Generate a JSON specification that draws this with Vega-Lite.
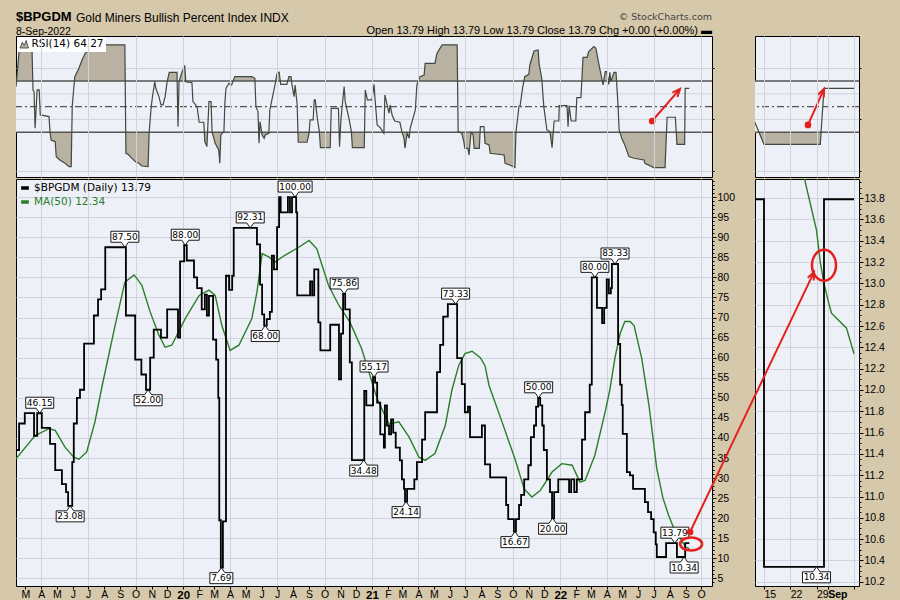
{
  "background": "#d6c8ab",
  "padding": {"left": 14, "top": 10, "right": 16, "bottom": 0},
  "title": {"text": "$BPGDM", "subtitle": "8-Sep-2022", "anchor": "start", "frame": "group", "offset": -26, "font": "Liberation Sans", "fontSize": 13, "fontWeight": "bold", "color": "#000000", "subtitleFont": "Liberation Sans", "subtitleFontSize": 10.5, "subtitleColor": "#000000", "subtitlePadding": 3},
  "config": {
    "view": {"fill": "#eef0f7", "stroke": "#000000", "strokeWidth": 1},
    "axis": {"domain": false, "gridColor": "#d0d3dc", "tickColor": "#000000", "labelColor": "#000000", "labelFont": "Liberation Sans", "labelFontSize": 10.5, "labelOverlap": false, "labelBound": false, "labelFlush": false}
  },
  "datasets": {
    "price": [
      {"date": "2019-02-11", "v": 37.0}, {"date": "2019-02-17", "v": 43.6}, {"date": "2019-02-28", "v": 46.2}, {"date": "2019-03-18", "v": 40.5}, {"date": "2019-03-24", "v": 46.15}, {"date": "2019-04-02", "v": 42.5}, {"date": "2019-04-18", "v": 38.5}, {"date": "2019-04-28", "v": 32.0}, {"date": "2019-05-11", "v": 28.5}, {"date": "2019-05-19", "v": 26.5}, {"date": "2019-05-23", "v": 23.08}, {"date": "2019-05-31", "v": 34.0},
      {"date": "2019-06-03", "v": 43.6}, {"date": "2019-06-09", "v": 50.0}, {"date": "2019-06-15", "v": 52.0}, {"date": "2019-06-23", "v": 63.5}, {"date": "2019-07-12", "v": 70.5}, {"date": "2019-07-20", "v": 74.5}, {"date": "2019-07-26", "v": 77.0}, {"date": "2019-08-03", "v": 87.5}, {"date": "2019-09-12", "v": 70.5}, {"date": "2019-09-30", "v": 59.5}, {"date": "2019-10-12", "v": 55.8}, {"date": "2019-10-21", "v": 52.0},
      {"date": "2019-10-29", "v": 60.0}, {"date": "2019-11-05", "v": 67.0}, {"date": "2019-11-19", "v": 65.0}, {"date": "2019-12-01", "v": 72.0}, {"date": "2019-12-22", "v": 65.0}, {"date": "2019-12-26", "v": 84.0}, {"date": "2020-01-03", "v": 88.0}, {"date": "2020-01-08", "v": 84.2}, {"date": "2020-01-22", "v": 80.0}, {"date": "2020-01-28", "v": 77.3}, {"date": "2020-02-06", "v": 72.0}, {"date": "2020-02-12", "v": 75.7},
      {"date": "2020-02-16", "v": 70.5}, {"date": "2020-02-20", "v": 75.4}, {"date": "2020-02-28", "v": 64.5}, {"date": "2020-03-05", "v": 59.5}, {"date": "2020-03-09", "v": 50.0}, {"date": "2020-03-11", "v": 19.5}, {"date": "2020-03-14", "v": 7.69}, {"date": "2020-03-18", "v": 19.2}, {"date": "2020-03-24", "v": 80.4}, {"date": "2020-03-30", "v": 76.9}, {"date": "2020-04-05", "v": 80.4}, {"date": "2020-04-08", "v": 92.31},
      {"date": "2020-05-23", "v": 88.2}, {"date": "2020-05-29", "v": 78.2}, {"date": "2020-06-02", "v": 70.8}, {"date": "2020-06-06", "v": 68.0}, {"date": "2020-06-11", "v": 69.6}, {"date": "2020-06-17", "v": 71.4}, {"date": "2020-06-21", "v": 85.4}, {"date": "2020-06-25", "v": 82.0}, {"date": "2020-07-01", "v": 92.5}, {"date": "2020-07-05", "v": 100}, {"date": "2020-07-08", "v": 96.2}, {"date": "2020-07-22", "v": 100},
      {"date": "2020-07-26", "v": 96.2}, {"date": "2020-07-30", "v": 100}, {"date": "2020-08-07", "v": 96.2}, {"date": "2020-08-09", "v": 75.5}, {"date": "2020-09-03", "v": 79.0}, {"date": "2020-09-07", "v": 75.5}, {"date": "2020-09-11", "v": 82.0}, {"date": "2020-09-19", "v": 68.8}, {"date": "2020-09-23", "v": 61.8}, {"date": "2020-10-12", "v": 68.2}, {"date": "2020-10-29", "v": 54.6}, {"date": "2020-11-02", "v": 66.0},
      {"date": "2020-11-06", "v": 75.86}, {"date": "2020-11-10", "v": 72.0}, {"date": "2020-11-19", "v": 58.8}, {"date": "2020-11-23", "v": 34.48}, {"date": "2020-12-17", "v": 51.7}, {"date": "2020-12-21", "v": 48.1}, {"date": "2021-01-03", "v": 55.17}, {"date": "2021-01-07", "v": 53.8}, {"date": "2021-01-11", "v": 48.8}, {"date": "2021-01-17", "v": 40.9}, {"date": "2021-01-24", "v": 37.6}, {"date": "2021-01-26", "v": 48.1},
      {"date": "2021-01-30", "v": 43.1}, {"date": "2021-02-03", "v": 40.9}, {"date": "2021-02-07", "v": 44.6}, {"date": "2021-02-11", "v": 41.3}, {"date": "2021-02-16", "v": 37.6}, {"date": "2021-02-24", "v": 34.4}, {"date": "2021-02-28", "v": 29.7}, {"date": "2021-03-04", "v": 27.3}, {"date": "2021-03-06", "v": 24.14}, {"date": "2021-03-10", "v": 27.3}, {"date": "2021-03-24", "v": 29.7}, {"date": "2021-03-29", "v": 34.0},
      {"date": "2021-04-08", "v": 39.6}, {"date": "2021-04-14", "v": 46.4}, {"date": "2021-05-07", "v": 56.4}, {"date": "2021-05-13", "v": 63.2}, {"date": "2021-05-19", "v": 70.2}, {"date": "2021-05-28", "v": 73.33}, {"date": "2021-06-15", "v": 59.9}, {"date": "2021-06-24", "v": 53.4}, {"date": "2021-06-30", "v": 46.4}, {"date": "2021-07-06", "v": 47.8}, {"date": "2021-07-10", "v": 40.2}, {"date": "2021-08-02", "v": 43.1},
      {"date": "2021-08-08", "v": 33.4}, {"date": "2021-08-18", "v": 30.2}, {"date": "2021-09-18", "v": 23.3}, {"date": "2021-09-22", "v": 19.8}, {"date": "2021-10-03", "v": 16.67}, {"date": "2021-10-07", "v": 19.8}, {"date": "2021-10-13", "v": 23.3}, {"date": "2021-10-17", "v": 25.8}, {"date": "2021-10-23", "v": 29.7}, {"date": "2021-10-31", "v": 33.2}, {"date": "2021-11-05", "v": 40.2}, {"date": "2021-11-11", "v": 43.1},
      {"date": "2021-11-15", "v": 47.8}, {"date": "2021-11-19", "v": 50.0}, {"date": "2021-11-23", "v": 48.1}, {"date": "2021-11-27", "v": 43.1}, {"date": "2021-11-30", "v": 37.0}, {"date": "2021-12-06", "v": 29.7}, {"date": "2021-12-12", "v": 26.5}, {"date": "2021-12-16", "v": 20.0}, {"date": "2021-12-20", "v": 26.5}, {"date": "2021-12-28", "v": 29.7}, {"date": "2022-01-18", "v": 26.5}, {"date": "2022-01-22", "v": 29.7},
      {"date": "2022-01-28", "v": 26.5}, {"date": "2022-02-02", "v": 29.7}, {"date": "2022-02-12", "v": 39.6}, {"date": "2022-02-18", "v": 46.4}, {"date": "2022-02-27", "v": 53.3}, {"date": "2022-03-03", "v": 80.0}, {"date": "2022-03-13", "v": 72.4}, {"date": "2022-03-23", "v": 68.6}, {"date": "2022-03-27", "v": 72.4}, {"date": "2022-04-01", "v": 79.5}, {"date": "2022-04-05", "v": 76.0}, {"date": "2022-04-09", "v": 77.3},
      {"date": "2022-04-11", "v": 83.33}, {"date": "2022-04-23", "v": 63.4}, {"date": "2022-04-27", "v": 53.3}, {"date": "2022-04-30", "v": 48.2}, {"date": "2022-05-02", "v": 41.0}, {"date": "2022-05-10", "v": 31.5}, {"date": "2022-05-16", "v": 30.7}, {"date": "2022-05-22", "v": 27.3}, {"date": "2022-06-14", "v": 24.0}, {"date": "2022-06-20", "v": 21.5}, {"date": "2022-06-26", "v": 19.8}, {"date": "2022-07-01", "v": 16.5},
      {"date": "2022-07-05", "v": 13.5}, {"date": "2022-07-07", "v": 10.34}, {"date": "2022-07-25", "v": 13.79}, {"date": "2022-08-15", "v": 10.34}, {"date": "2022-08-31", "v": 13.79}, {"date": "2022-09-08", "v": 13.79}
    ],
    "ma": [
      {"date": "2019-02-11", "ma": 34.8}, {"date": "2019-03-20", "ma": 40.6}, {"date": "2019-04-16", "ma": 42.3}, {"date": "2019-04-28", "ma": 41.9}, {"date": "2019-05-17", "ma": 37.7}, {"date": "2019-06-03", "ma": 35.2}, {"date": "2019-06-13", "ma": 34.7}, {"date": "2019-06-28", "ma": 36.5}, {"date": "2019-07-14", "ma": 44.0}, {"date": "2019-07-28", "ma": 53.0}, {"date": "2019-08-22", "ma": 68.0}, {"date": "2019-09-10", "ma": 78.8},
      {"date": "2019-09-28", "ma": 80.6}, {"date": "2019-10-13", "ma": 78.0}, {"date": "2019-10-29", "ma": 71.4}, {"date": "2019-11-15", "ma": 65.6}, {"date": "2019-11-27", "ma": 62.6}, {"date": "2019-12-10", "ma": 63.1}, {"date": "2020-01-05", "ma": 69.7}, {"date": "2020-02-01", "ma": 75.5}, {"date": "2020-02-20", "ma": 76.8}, {"date": "2020-03-03", "ma": 75.5}, {"date": "2020-03-16", "ma": 68.0}, {"date": "2020-04-01", "ma": 61.8},
      {"date": "2020-04-18", "ma": 63.1}, {"date": "2020-05-13", "ma": 69.7}, {"date": "2020-05-23", "ma": 76.3}, {"date": "2020-06-02", "ma": 85.9}, {"date": "2020-06-15", "ma": 85.1}, {"date": "2020-06-27", "ma": 83.8}, {"date": "2020-07-16", "ma": 85.5}, {"date": "2020-08-12", "ma": 87.5}, {"date": "2020-09-01", "ma": 89.2}, {"date": "2020-09-16", "ma": 87.1}, {"date": "2020-10-09", "ma": 77.9}, {"date": "2020-10-29", "ma": 73.0},
      {"date": "2020-11-19", "ma": 68.9}, {"date": "2020-12-12", "ma": 62.2}, {"date": "2020-12-26", "ma": 56.4}, {"date": "2021-01-07", "ma": 51.4}, {"date": "2021-01-14", "ma": 48.9}, {"date": "2021-02-03", "ma": 43.5}, {"date": "2021-02-22", "ma": 44.0}, {"date": "2021-03-14", "ma": 40.2}, {"date": "2021-04-02", "ma": 35.2}, {"date": "2021-04-14", "ma": 34.4}, {"date": "2021-05-03", "ma": 36.1}, {"date": "2021-05-23", "ma": 43.1},
      {"date": "2021-06-05", "ma": 52.0}, {"date": "2021-06-18", "ma": 58.0}, {"date": "2021-06-30", "ma": 61.0}, {"date": "2021-07-14", "ma": 61.6}, {"date": "2021-07-30", "ma": 60.0}, {"date": "2021-08-08", "ma": 58.0}, {"date": "2021-08-16", "ma": 53.0}, {"date": "2021-09-10", "ma": 44.0}, {"date": "2021-10-05", "ma": 34.8}, {"date": "2021-10-23", "ma": 27.3}, {"date": "2021-11-07", "ma": 25.3}, {"date": "2021-11-23", "ma": 26.9},
      {"date": "2021-12-16", "ma": 31.5}, {"date": "2022-01-04", "ma": 33.6}, {"date": "2022-01-24", "ma": 33.2}, {"date": "2022-02-08", "ma": 29.0}, {"date": "2022-02-18", "ma": 29.4}, {"date": "2022-03-09", "ma": 35.7}, {"date": "2022-03-29", "ma": 46.5}, {"date": "2022-04-07", "ma": 52.0}, {"date": "2022-04-17", "ma": 60.0}, {"date": "2022-04-27", "ma": 66.0}, {"date": "2022-05-06", "ma": 69.0}, {"date": "2022-05-16", "ma": 69.0},
      {"date": "2022-05-24", "ma": 68.0}, {"date": "2022-06-08", "ma": 59.7}, {"date": "2022-06-22", "ma": 48.0}, {"date": "2022-07-07", "ma": 32.3}, {"date": "2022-07-19", "ma": 25.0}, {"date": "2022-07-30", "ma": 20.7}, {"date": "2022-08-09", "ma": 17.5}, {"date": "2022-08-16", "ma": 16.0}, {"date": "2022-08-22", "ma": 15.0}, {"date": "2022-08-24", "ma": 14.6}, {"date": "2022-08-25", "ma": 14.3}, {"date": "2022-08-26", "ma": 13.95},
      {"date": "2022-08-29", "ma": 13.5}, {"date": "2022-08-30", "ma": 13.2}, {"date": "2022-08-31", "ma": 13.0}, {"date": "2022-09-01", "ma": 12.85}, {"date": "2022-09-02", "ma": 12.72}, {"date": "2022-09-06", "ma": 12.58}, {"date": "2022-09-07", "ma": 12.46}, {"date": "2022-09-08", "ma": 12.34}
    ],
    "rsi": [
      {"date": "2019-02-11", "rsi": 65.6}, {"date": "2019-02-17", "rsi": 92.9}, {"date": "2019-03-06", "rsi": 94.0}, {"date": "2019-03-14", "rsi": 95.5}, {"date": "2019-03-16", "rsi": 63.0}, {"date": "2019-03-18", "rsi": 61.7}, {"date": "2019-03-20", "rsi": 33.1}, {"date": "2019-03-24", "rsi": 63.0}, {"date": "2019-03-28", "rsi": 63.0}, {"date": "2019-03-30", "rsi": 43.5}, {"date": "2019-04-16", "rsi": 42.2}, {"date": "2019-04-18", "rsi": 30.0},
      {"date": "2019-04-20", "rsi": 24.0}, {"date": "2019-04-28", "rsi": 22.7}, {"date": "2019-04-30", "rsi": 11.0}, {"date": "2019-05-07", "rsi": 8.4}, {"date": "2019-05-17", "rsi": 5.8}, {"date": "2019-05-25", "rsi": 3.2}, {"date": "2019-05-29", "rsi": 3.2}, {"date": "2019-05-31", "rsi": 50.5}, {"date": "2019-06-03", "rsi": 64.3}, {"date": "2019-06-05", "rsi": 73.4}, {"date": "2019-06-13", "rsi": 79.9}, {"date": "2019-06-19", "rsi": 86.4},
      {"date": "2019-06-25", "rsi": 91.6}, {"date": "2019-07-04", "rsi": 94.2}, {"date": "2019-07-14", "rsi": 96.8}, {"date": "2019-07-28", "rsi": 98.1}, {"date": "2019-09-10", "rsi": 98.1}, {"date": "2019-09-12", "rsi": 13.6}, {"date": "2019-09-16", "rsi": 12.8}, {"date": "2019-09-30", "rsi": 7.1}, {"date": "2019-10-07", "rsi": 5.8}, {"date": "2019-10-13", "rsi": 3.7}, {"date": "2019-10-25", "rsi": 3.2}, {"date": "2019-10-27", "rsi": 29.2},
      {"date": "2019-10-31", "rsi": 50.0}, {"date": "2019-11-03", "rsi": 59.1}, {"date": "2019-11-07", "rsi": 69.5}, {"date": "2019-11-09", "rsi": 64.3}, {"date": "2019-11-15", "rsi": 57.8}, {"date": "2019-11-19", "rsi": 51.3}, {"date": "2019-11-23", "rsi": 51.3}, {"date": "2019-11-27", "rsi": 57.8}, {"date": "2019-12-01", "rsi": 69.5}, {"date": "2019-12-05", "rsi": 76.8}, {"date": "2019-12-20", "rsi": 76.8}, {"date": "2019-12-22", "rsi": 34.4},
      {"date": "2019-12-24", "rsi": 69.5}, {"date": "2019-12-30", "rsi": 77.3}, {"date": "2020-01-04", "rsi": 82.0}, {"date": "2020-01-06", "rsi": 69.5}, {"date": "2020-01-18", "rsi": 68.7}, {"date": "2020-01-20", "rsi": 53.9}, {"date": "2020-01-28", "rsi": 50.0}, {"date": "2020-02-01", "rsi": 37.8}, {"date": "2020-02-10", "rsi": 37.8}, {"date": "2020-02-12", "rsi": 22.7}, {"date": "2020-02-16", "rsi": 18.8}, {"date": "2020-02-20", "rsi": 53.9},
      {"date": "2020-02-24", "rsi": 53.9}, {"date": "2020-02-26", "rsi": 30.5}, {"date": "2020-03-03", "rsi": 21.4}, {"date": "2020-03-10", "rsi": 16.2}, {"date": "2020-03-12", "rsi": 5.8}, {"date": "2020-03-14", "rsi": 27.9}, {"date": "2020-03-20", "rsi": 30.5}, {"date": "2020-03-22", "rsi": 53.9}, {"date": "2020-03-24", "rsi": 64.3}, {"date": "2020-03-30", "rsi": 68.2}, {"date": "2020-04-04", "rsi": 66.9}, {"date": "2020-04-10", "rsi": 73.4},
      {"date": "2020-05-13", "rsi": 73.4}, {"date": "2020-05-19", "rsi": 72.1}, {"date": "2020-05-21", "rsi": 50.0}, {"date": "2020-05-25", "rsi": 46.1}, {"date": "2020-05-27", "rsi": 21.4}, {"date": "2020-05-29", "rsi": 38.3}, {"date": "2020-06-02", "rsi": 27.9}, {"date": "2020-06-06", "rsi": 25.3}, {"date": "2020-06-08", "rsi": 27.9}, {"date": "2020-06-15", "rsi": 29.2}, {"date": "2020-06-17", "rsi": 47.4}, {"date": "2020-06-23", "rsi": 59.1},
      {"date": "2020-06-27", "rsi": 66.9}, {"date": "2020-07-01", "rsi": 76.0}, {"date": "2020-07-05", "rsi": 76.8}, {"date": "2020-07-08", "rsi": 67.4}, {"date": "2020-07-20", "rsi": 67.4}, {"date": "2020-07-24", "rsi": 73.4}, {"date": "2020-07-28", "rsi": 73.4}, {"date": "2020-07-30", "rsi": 66.9}, {"date": "2020-08-03", "rsi": 57.8}, {"date": "2020-08-05", "rsi": 66.9}, {"date": "2020-08-09", "rsi": 51.3}, {"date": "2020-08-11", "rsi": 22.2},
      {"date": "2020-08-28", "rsi": 22.2}, {"date": "2020-09-01", "rsi": 29.2}, {"date": "2020-09-03", "rsi": 39.6}, {"date": "2020-09-09", "rsi": 39.6}, {"date": "2020-09-11", "rsi": 55.2}, {"date": "2020-09-13", "rsi": 55.2}, {"date": "2020-09-17", "rsi": 40.9}, {"date": "2020-09-21", "rsi": 30.5}, {"date": "2020-09-23", "rsi": 18.0}, {"date": "2020-10-12", "rsi": 18.0}, {"date": "2020-10-14", "rsi": 48.7}, {"date": "2020-10-28", "rsi": 48.7},
      {"date": "2020-10-30", "rsi": 18.8}, {"date": "2020-11-02", "rsi": 40.9}, {"date": "2020-11-08", "rsi": 65.6}, {"date": "2020-11-10", "rsi": 53.9}, {"date": "2020-11-18", "rsi": 39.6}, {"date": "2020-11-22", "rsi": 30.5}, {"date": "2020-11-24", "rsi": 18.0}, {"date": "2020-12-17", "rsi": 18.0}, {"date": "2020-12-19", "rsi": 63.0}, {"date": "2020-12-23", "rsi": 55.2}, {"date": "2021-01-01", "rsi": 55.2}, {"date": "2021-01-05", "rsi": 67.4},
      {"date": "2021-01-07", "rsi": 55.2}, {"date": "2021-01-11", "rsi": 35.7}, {"date": "2021-01-17", "rsi": 33.6}, {"date": "2021-01-24", "rsi": 29.2}, {"date": "2021-01-26", "rsi": 59.1}, {"date": "2021-02-03", "rsi": 44.8}, {"date": "2021-02-05", "rsi": 51.3}, {"date": "2021-02-09", "rsi": 43.5}, {"date": "2021-02-14", "rsi": 38.8}, {"date": "2021-02-24", "rsi": 37.8}, {"date": "2021-02-28", "rsi": 30.5}, {"date": "2021-03-04", "rsi": 25.3},
      {"date": "2021-03-06", "rsi": 17.5}, {"date": "2021-03-10", "rsi": 29.2}, {"date": "2021-03-14", "rsi": 25.3}, {"date": "2021-03-16", "rsi": 33.1}, {"date": "2021-03-26", "rsi": 47.4}, {"date": "2021-03-29", "rsi": 66.9}, {"date": "2021-04-04", "rsi": 73.4}, {"date": "2021-04-12", "rsi": 74.7}, {"date": "2021-04-14", "rsi": 83.8}, {"date": "2021-05-03", "rsi": 83.8}, {"date": "2021-05-07", "rsi": 91.6}, {"date": "2021-05-17", "rsi": 98.1},
      {"date": "2021-06-15", "rsi": 98.1}, {"date": "2021-06-17", "rsi": 30.5}, {"date": "2021-06-24", "rsi": 29.2}, {"date": "2021-06-28", "rsi": 22.7}, {"date": "2021-06-30", "rsi": 17.5}, {"date": "2021-07-06", "rsi": 17.5}, {"date": "2021-07-08", "rsi": 12.3}, {"date": "2021-07-12", "rsi": 30.0}, {"date": "2021-07-16", "rsi": 28.0}, {"date": "2021-07-18", "rsi": 17.5}, {"date": "2021-07-28", "rsi": 17.5}, {"date": "2021-07-30", "rsi": 34.4},
      {"date": "2021-08-06", "rsi": 34.4}, {"date": "2021-08-08", "rsi": 21.4}, {"date": "2021-08-16", "rsi": 20.1}, {"date": "2021-08-18", "rsi": 13.6}, {"date": "2021-09-14", "rsi": 12.3}, {"date": "2021-09-16", "rsi": 5.8}, {"date": "2021-09-25", "rsi": 4.5}, {"date": "2021-10-05", "rsi": 2.4}, {"date": "2021-10-07", "rsi": 30.0}, {"date": "2021-10-13", "rsi": 50.5}, {"date": "2021-10-15", "rsi": 50.5}, {"date": "2021-10-20", "rsi": 64.8},
      {"date": "2021-10-24", "rsi": 73.4}, {"date": "2021-11-01", "rsi": 75.2}, {"date": "2021-11-03", "rsi": 82.5}, {"date": "2021-11-11", "rsi": 93.4}, {"date": "2021-11-19", "rsi": 94.2}, {"date": "2021-11-21", "rsi": 83.0}, {"date": "2021-11-26", "rsi": 72.1}, {"date": "2021-11-30", "rsi": 50.0}, {"date": "2021-12-06", "rsi": 31.8}, {"date": "2021-12-12", "rsi": 30.5}, {"date": "2021-12-16", "rsi": 18.0}, {"date": "2021-12-20", "rsi": 38.8},
      {"date": "2021-12-29", "rsi": 38.8}, {"date": "2021-12-30", "rsi": 50.8}, {"date": "2022-01-14", "rsi": 50.8}, {"date": "2022-01-16", "rsi": 34.4}, {"date": "2022-01-18", "rsi": 50.8}, {"date": "2022-01-22", "rsi": 38.8}, {"date": "2022-01-31", "rsi": 38.8}, {"date": "2022-02-02", "rsi": 57.0}, {"date": "2022-02-10", "rsi": 57.0}, {"date": "2022-02-14", "rsi": 88.5}, {"date": "2022-02-22", "rsi": 88.5}, {"date": "2022-02-25", "rsi": 92.9},
      {"date": "2022-03-07", "rsi": 96.8}, {"date": "2022-03-11", "rsi": 95.5}, {"date": "2022-03-17", "rsi": 82.5}, {"date": "2022-03-25", "rsi": 66.9}, {"date": "2022-03-29", "rsi": 77.3}, {"date": "2022-04-01", "rsi": 77.3}, {"date": "2022-04-05", "rsi": 67.4}, {"date": "2022-04-07", "rsi": 76.8}, {"date": "2022-04-09", "rsi": 69.5}, {"date": "2022-04-15", "rsi": 76.8}, {"date": "2022-04-19", "rsi": 76.8}, {"date": "2022-04-23", "rsi": 50.0},
      {"date": "2022-04-25", "rsi": 31.8}, {"date": "2022-04-30", "rsi": 25.3}, {"date": "2022-05-06", "rsi": 20.1}, {"date": "2022-05-14", "rsi": 11.0}, {"date": "2022-05-24", "rsi": 9.7}, {"date": "2022-06-12", "rsi": 8.4}, {"date": "2022-06-14", "rsi": 5.8}, {"date": "2022-07-01", "rsi": 2.4}, {"date": "2022-07-23", "rsi": 2.4}, {"date": "2022-07-27", "rsi": 41.7}, {"date": "2022-08-12", "rsi": 41.7}, {"date": "2022-08-15", "rsi": 20.6},
      {"date": "2022-08-30", "rsi": 20.6}, {"date": "2022-08-31", "rsi": 64.27}, {"date": "2022-09-08", "rsi": 64.27}
    ],
    "labels": [
      {"date": "2019-03-29", "v": 46.15, "kind": "peak"}, {"date": "2019-05-27", "v": 23.08, "kind": "trough"}, {"date": "2019-09-10", "v": 87.5, "kind": "peak"}, {"date": "2019-10-25", "v": 52.0, "kind": "trough"}, {"date": "2020-01-05", "v": 88.0, "kind": "peak"}, {"date": "2020-03-15", "v": 7.69, "kind": "trough"}, {"date": "2020-05-10", "v": 92.31, "kind": "peak"},
      {"date": "2020-06-08", "v": 68.0, "kind": "trough"}, {"date": "2020-08-05", "v": 100.0, "kind": "peak"}, {"date": "2020-11-08", "v": 75.86, "kind": "peak"}, {"date": "2020-12-16", "v": 34.48, "kind": "trough"}, {"date": "2021-01-05", "v": 55.17, "kind": "peak"}, {"date": "2021-03-08", "v": 24.14, "kind": "trough"}, {"date": "2021-06-12", "v": 73.33, "kind": "peak"},
      {"date": "2021-10-05", "v": 16.67, "kind": "trough"}, {"date": "2021-11-20", "v": 50.0, "kind": "peak"}, {"date": "2021-12-17", "v": 20.0, "kind": "trough"}, {"date": "2022-03-09", "v": 80.0, "kind": "peak"}, {"date": "2022-04-17", "v": 83.33, "kind": "peak"}, {"date": "2022-08-11", "v": 13.79, "kind": "peak"}, {"date": "2022-08-29", "v": 10.34, "kind": "trough"}
    ],
    "anno": [
      {"panel": "rsiL", "end": "tail", "date": "2022-06-28", "y": 38.8},
      {"panel": "rsiL", "end": "head", "date": "2022-08-21", "y": 63.8},
      {"panel": "rsiR", "end": "tail", "date": "2022-08-26T17:30Z", "y": 35.7},
      {"panel": "rsiR", "end": "head", "date": "2022-08-31T00:00Z", "y": 63.8},
      {"panel": "priceL", "end": "tail", "date": "2022-09-09T12:00Z", "y": 16.57},
      {"panel": "priceL", "end": "head", "date": "2023-05-07", "y": 81.3},
      {"panel": "priceR", "end": "tail", "date": "2022-07-26T07:00Z", "y": 10.67},
      {"panel": "priceR", "end": "head", "date": "2022-08-28T08:00Z", "y": 13.106},
      {"panel": "ellL", "end": "center", "date": "2022-09-11T12:00Z", "y": 13.58},
      {"panel": "ellR", "end": "center", "date": "2022-08-31T00:00Z", "y": 13.17}
    ]
  },
  "spacing": 0,
  "bounds": "full",
  "resolve": {"scale": {"x": "independent", "y": "independent", "color": "independent"}},
  "vconcat": [
    {
      "spacing": 43,
      "bounds": "flush",
      "title": {"text": "Gold Miners Bullish Percent Index  INDX", "anchor": "start", "frame": "group", "dx": 60, "offset": -14, "font": "Liberation Sans", "fontSize": 12, "fontWeight": "normal", "color": "#000000"},
      "resolve": {"scale": {"x": "independent", "y": "independent", "color": "independent"}},
      "hconcat": [
        {
          "width": 696, "height": 141,
          "title": {"text": "© StockCharts.com", "subtitle": "Open 13.79  High 13.79  Low 13.79  Close 13.79  Chg +0.00 (+0.00%) ▬", "anchor": "end", "frame": "group", "offset": 0, "font": "DejaVu Sans", "fontSize": 9.5, "fontWeight": "normal", "color": "#444444", "subtitleFont": "Liberation Sans", "subtitleFontSize": 11, "subtitleColor": "#000000", "subtitlePadding": 4},
          "layer": [
            {"data": {"name": "rsi"}, "mark": {"type": "area", "clip": true},
             "encoding": {
               "x": {"field": "date", "type": "temporal", "scale": {"type": "utc", "domain": [{"year": 2019, "month": 2, "date": 11, "utc": true}, {"year": 2022, "month": 10, "date": 22, "utc": true}]},
                     "axis": {"orient": "bottom", "labels": false, "ticks": false, "domain": false, "grid": true, "tickCount": {"interval": "month", "step": 3}, "zindex": 1, "title": null}},
               "y": {"field": "rsi", "type": "quantitative", "scale": {"domain": [-4.9, 105.1], "nice": false, "zero": false},
                     "axis": {"orient": "right", "values": [0, 5, 10, 15, 20, 25, 30, 35, 40, 45, 50, 55, 60, 65, 70, 75, 80, 85, 90, 95, 100], "labelExpr": "datum.value % 20 == 10 ? datum.label : ''", "labelFontSize": {"condition": {"test": "datum.value % 20 == 10", "value": 10.5}, "value": 0}, "gridOpacity": {"condition": {"test": "datum.value % 10 == 0", "value": 1}, "value": 0}, "tickSize": {"condition": {"test": "datum.value % 20 == 10", "value": 4}, "value": 2}, "labelPadding": 1, "title": null}},
               "y2": {"datum": 50},
               "color": {"datum": "RSI(14) 64.27", "type": "nominal", "scale": {"range": ["#b9b2a2"]},
                         "legend": {"orient": "top-left", "title": null, "offset": 1, "padding": 2, "fillColor": "#ffffff", "symbolType": "M-1,0.9L-0.45,-0.5L0,0.3L0.45,-0.9L1,0.9Z", "symbolSize": 70, "symbolStrokeColor": "#333333", "symbolStrokeWidth": 0.8, "labelFont": "DejaVu Sans", "labelFontSize": 10.5, "labelColor": "#000000", "labelOffset": 2}}
             }},
            {"data": {"values": [{}]}, "mark": {"type": "rect", "color": "#eef0f7"}, "encoding": {"y": {"datum": 30}, "y2": {"datum": 70}}},
            {"data": {"values": [{"g": 40}, {"g": 60}]}, "mark": {"type": "rule", "color": "#d0d3dc"}, "encoding": {"y": {"field": "g", "type": "quantitative"}}},
            {"data": {"values": [{"g": 30}, {"g": 70}]}, "mark": {"type": "rule", "color": "#555555", "strokeWidth": 1.3}, "encoding": {"y": {"field": "g", "type": "quantitative"}}},
            {"data": {"values": [{"g": 50}]}, "mark": {"type": "rule", "color": "#555555", "strokeWidth": 1.1, "strokeDash": [7, 3, 2, 3]}, "encoding": {"y": {"field": "g", "type": "quantitative"}}},
            {"data": {"name": "rsi"}, "mark": {"type": "line", "color": "#3f4a40", "strokeWidth": 1.2, "clip": true}, "encoding": {"x": {"field": "date", "type": "temporal"}, "y": {"field": "rsi", "type": "quantitative"}}},
            {"data": {"name": "anno"}, "transform": [{"filter": "datum.panel == 'rsiL'"}], "mark": {"type": "line", "color": "#e3201c", "strokeWidth": 2}, "encoding": {"x": {"field": "date", "type": "temporal"}, "y": {"field": "y", "type": "quantitative"}}},
            {"data": {"name": "anno"}, "transform": [{"filter": "datum.panel == 'rsiL' && datum.end == 'tail'"}], "mark": {"type": "point", "shape": "circle", "filled": true, "color": "#e3201c", "size": 45, "opacity": 1}, "encoding": {"x": {"field": "date", "type": "temporal"}, "y": {"field": "y", "type": "quantitative"}}},
            {"data": {"name": "anno"}, "transform": [{"filter": "datum.panel == 'rsiL' && datum.end == 'head'"}], "mark": {"type": "point", "shape": "M-0.55,1.3L0,0L0.55,1.3", "filled": false, "stroke": "#e3201c", "strokeWidth": 2, "size": 144, "angle": 41, "opacity": 1}, "encoding": {"x": {"field": "date", "type": "temporal"}, "y": {"field": "y", "type": "quantitative"}}}
          ]
        },
        {
          "width": 104, "height": 141,
          "layer": [
            {"data": {"name": "rsi"}, "mark": {"type": "area", "clip": true, "color": "#b9b2a2"},
             "encoding": {
               "x": {"field": "date", "type": "temporal", "scale": {"type": "utc", "domain": [{"year": 2022, "month": 8, "date": 12, "hours": 14, "minutes": 24, "utc": true}, {"year": 2022, "month": 9, "date": 9, "hours": 8, "utc": true}]},
                     "axis": {"orient": "bottom", "labels": false, "ticks": false, "domain": false, "grid": true, "tickCount": {"interval": "day", "step": 7}, "zindex": 1, "title": null}},
               "y": {"field": "rsi", "type": "quantitative", "scale": {"domain": [-4.9, 105.1], "nice": false, "zero": false},
                     "axis": {"orient": "right", "values": [0, 5, 10, 15, 20, 25, 30, 35, 40, 45, 50, 55, 60, 65, 70, 75, 80, 85, 90, 95, 100], "labelExpr": "datum.value % 20 == 10 ? datum.label : ''", "labelFontSize": {"condition": {"test": "datum.value % 20 == 10", "value": 10.5}, "value": 0}, "gridOpacity": {"condition": {"test": "datum.value % 10 == 0", "value": 1}, "value": 0}, "tickSize": {"condition": {"test": "datum.value % 20 == 10", "value": 4}, "value": 2}, "labelPadding": 1, "title": null}},
               "y2": {"datum": 50}
             }},
            {"data": {"values": [{}]}, "mark": {"type": "rect", "color": "#eef0f7"}, "encoding": {"y": {"datum": 30}, "y2": {"datum": 70}}},
            {"data": {"values": [{"g": 40}, {"g": 60}]}, "mark": {"type": "rule", "color": "#d0d3dc"}, "encoding": {"y": {"field": "g", "type": "quantitative"}}},
            {"data": {"values": [{"g": 30}, {"g": 70}]}, "mark": {"type": "rule", "color": "#555555", "strokeWidth": 1.3}, "encoding": {"y": {"field": "g", "type": "quantitative"}}},
            {"data": {"values": [{"g": 50}]}, "mark": {"type": "rule", "color": "#555555", "strokeWidth": 1.1, "strokeDash": [7, 3, 2, 3]}, "encoding": {"y": {"field": "g", "type": "quantitative"}}},
            {"data": {"name": "rsi"}, "mark": {"type": "line", "color": "#3f4a40", "strokeWidth": 1.2, "clip": true}, "encoding": {"x": {"field": "date", "type": "temporal"}, "y": {"field": "rsi", "type": "quantitative"}}},
            {"data": {"name": "anno"}, "transform": [{"filter": "datum.panel == 'rsiR'"}], "mark": {"type": "line", "color": "#e3201c", "strokeWidth": 2}, "encoding": {"x": {"field": "date", "type": "temporal"}, "y": {"field": "y", "type": "quantitative"}}},
            {"data": {"name": "anno"}, "transform": [{"filter": "datum.panel == 'rsiR' && datum.end == 'tail'"}], "mark": {"type": "point", "shape": "circle", "filled": true, "color": "#e3201c", "size": 45, "opacity": 1}, "encoding": {"x": {"field": "date", "type": "temporal"}, "y": {"field": "y", "type": "quantitative"}}},
            {"data": {"name": "anno"}, "transform": [{"filter": "datum.panel == 'rsiR' && datum.end == 'head'"}], "mark": {"type": "point", "shape": "M-0.55,1.3L0,0L0.55,1.3", "filled": false, "stroke": "#e3201c", "strokeWidth": 2, "size": 144, "angle": 24, "opacity": 1}, "encoding": {"x": {"field": "date", "type": "temporal"}, "y": {"field": "y", "type": "quantitative"}}}
          ]
        }
      ]
    },
    {
      "spacing": 43,
      "bounds": "flush",
      "resolve": {"scale": {"x": "independent", "y": "independent", "color": "independent"}},
      "hconcat": [
        {
          "width": 696, "height": 407,
          "layer": [
            {"data": {"name": "ma"}, "mark": {"type": "line", "strokeWidth": 1.4, "clip": true},
             "encoding": {
               "x": {"field": "date", "type": "temporal", "scale": {"type": "utc", "domain": [{"year": 2019, "month": 2, "date": 11, "utc": true}, {"year": 2022, "month": 10, "date": 22, "utc": true}]},
                     "axis": {"orient": "bottom", "tickCount": {"interval": "month", "step": 1}, "labelExpr": "utcmonth(datum.value) == 0 ? utcFormat(datum.value, '%y') : substring(utcFormat(datum.value, '%b'), 0, 1)", "labelFontWeight": {"condition": {"test": "utcmonth(datum.value) == 0", "value": "bold"}, "value": "normal"}, "labelFontSize": {"condition": {"test": "utcmonth(datum.value) == 0", "value": 11.5}, "value": 10.5}, "gridOpacity": {"condition": {"test": "utcmonth(datum.value) % 3 == 0", "value": 1}, "value": 0}, "tickSize": 3, "labelPadding": 0, "labelOverlap": false, "title": null}},
               "y": {"field": "ma", "type": "quantitative", "scale": {"domain": [3.12, 104.5], "nice": false, "zero": false},
                     "axis": {"orient": "right", "tickCount": 100, "labelExpr": "datum.value % 5 == 0 ? datum.label : ''", "labelFontSize": {"condition": {"test": "datum.value % 5 == 0", "value": 10.5}, "value": 0}, "gridOpacity": {"condition": {"test": "datum.value % 5 == 0", "value": 1}, "value": 0}, "tickSize": {"condition": {"test": "datum.value % 5 == 0", "value": 4}, "value": 2}, "labelPadding": 1, "title": null}},
               "color": {"datum": "MA(50) 12.34", "type": "nominal", "scale": {"domain": ["$BPGDM (Daily) 13.79", "MA(50) 12.34"], "range": ["#000000", "#2a7d2a"]},
                         "legend": {"orient": "top-left", "title": null, "offset": 3, "padding": 0, "symbolType": "stroke", "symbolStrokeWidth": 3.5, "symbolSize": 60, "labelFont": "DejaVu Sans", "labelFontSize": 10.5, "rowPadding": 0, "labelOffset": 3,
                                    "encode": {"labels": {"update": {"fill": {"signal": "datum.value === 'MA(50) 12.34' ? '#2a7d2a' : '#000000'"}}}}}}
             }},
            {"data": {"name": "price"}, "mark": {"type": "line", "strokeWidth": 1.8, "interpolate": "step-after", "clip": true},
             "encoding": {"x": {"field": "date", "type": "temporal"}, "y": {"field": "v", "type": "quantitative"}, "color": {"datum": "$BPGDM (Daily) 13.79", "type": "nominal"}}},
            {"data": {"name": "labels"}, "transform": [{"filter": "datum.kind == 'peak' && datum.v < 100"}], "mark": {"type": "point", "shape": "M-1,-1.143H1V-0.357H0.25L0,0L-0.25,-0.357H-1Z", "size": 784, "filled": true, "fill": "#ffffff", "stroke": "#000000", "strokeWidth": 0.9, "opacity": 1}, "encoding": {"x": {"field": "date", "type": "temporal"}, "y": {"field": "v", "type": "quantitative"}}},
            {"data": {"name": "labels"}, "transform": [{"filter": "datum.kind == 'peak' && datum.v >= 100"}], "mark": {"type": "point", "shape": "M-1.214,-1.143H1.214V-0.357H0.25L0,0L-0.25,-0.357H-1.214Z", "size": 784, "filled": true, "fill": "#ffffff", "stroke": "#000000", "strokeWidth": 0.9, "opacity": 1}, "encoding": {"x": {"field": "date", "type": "temporal"}, "y": {"field": "v", "type": "quantitative"}}},
            {"data": {"name": "labels"}, "transform": [{"filter": "datum.kind == 'trough' && datum.v >= 10"}], "mark": {"type": "point", "shape": "M-1,1.143H1V0.357H0.25L0,0L-0.25,0.357H-1Z", "size": 784, "filled": true, "fill": "#ffffff", "stroke": "#000000", "strokeWidth": 0.9, "opacity": 1}, "encoding": {"x": {"field": "date", "type": "temporal"}, "y": {"field": "v", "type": "quantitative"}}},
            {"data": {"name": "labels"}, "transform": [{"filter": "datum.kind == 'trough' && datum.v < 10"}], "mark": {"type": "point", "shape": "M-0.821,1.143H0.821V0.357H0.25L0,0L-0.25,0.357H-0.821Z", "size": 784, "filled": true, "fill": "#ffffff", "stroke": "#000000", "strokeWidth": 0.9, "opacity": 1}, "encoding": {"x": {"field": "date", "type": "temporal"}, "y": {"field": "v", "type": "quantitative"}}},
            {"data": {"name": "labels"}, "transform": [{"filter": "datum.kind == 'peak'"}], "mark": {"type": "text", "dy": -10.5, "font": "DejaVu Sans", "fontSize": 9, "color": "#000000", "baseline": "middle"}, "encoding": {"x": {"field": "date", "type": "temporal"}, "y": {"field": "v", "type": "quantitative"}, "text": {"field": "v", "type": "quantitative", "format": ".2f"}}},
            {"data": {"name": "labels"}, "transform": [{"filter": "datum.kind == 'trough'"}], "mark": {"type": "text", "dy": 10.5, "font": "DejaVu Sans", "fontSize": 9, "color": "#000000", "baseline": "middle"}, "encoding": {"x": {"field": "date", "type": "temporal"}, "y": {"field": "v", "type": "quantitative"}, "text": {"field": "v", "type": "quantitative", "format": ".2f"}}},
            {"data": {"name": "anno"}, "transform": [{"filter": "datum.panel == 'priceL'"}], "mark": {"type": "line", "color": "#e3201c", "strokeWidth": 2}, "encoding": {"x": {"field": "date", "type": "temporal"}, "y": {"field": "y", "type": "quantitative"}}},
            {"data": {"name": "anno"}, "transform": [{"filter": "datum.panel == 'priceL' && datum.end == 'tail'"}], "mark": {"type": "point", "shape": "circle", "filled": true, "color": "#e3201c", "size": 45, "opacity": 1}, "encoding": {"x": {"field": "date", "type": "temporal"}, "y": {"field": "y", "type": "quantitative"}}},
            {"data": {"name": "anno"}, "transform": [{"filter": "datum.panel == 'ellL'"}], "mark": {"type": "point", "shape": "M-1,0A1,0.59,0,1,1,1,0A1,0.59,0,1,1,-1,0Z", "filled": false, "stroke": "#e3201c", "strokeWidth": 2.5, "size": 484, "opacity": 1}, "encoding": {"x": {"field": "date", "type": "temporal"}, "y": {"field": "y", "type": "quantitative"}}}
          ]
        },
        {
          "width": 104, "height": 407,
          "layer": [
            {"data": {"name": "ma"}, "mark": {"type": "line", "strokeWidth": 1.4, "clip": true, "color": "#2a7d2a"},
             "encoding": {
               "x": {"field": "date", "type": "temporal", "scale": {"type": "utc", "domain": [{"year": 2022, "month": 8, "date": 12, "hours": 14, "minutes": 24, "utc": true}, {"year": 2022, "month": 9, "date": 9, "hours": 8, "utc": true}]},
                     "axis": {"orient": "bottom", "tickCount": {"interval": "day", "step": 7}, "labelExpr": "utcdate(datum.value) == 1 ? 'Sep' : (utcdate(datum.value) == 8 ? '' : utcFormat(datum.value, '%d'))", "labelFontWeight": {"condition": {"test": "utcdate(datum.value) == 1", "value": "bold"}, "value": "normal"}, "labelAlign": "left", "labelOverlap": false, "labelFlush": false, "labelBound": false, "tickSize": 3, "labelPadding": 0, "title": null}},
               "y": {"field": "ma", "type": "quantitative", "scale": {"domain": [10.16, 13.98], "nice": false, "zero": false},
                     "axis": {"orient": "right", "tickCount": 80, "labelExpr": "round(datum.value * 100) % 20 == 0 ? format(datum.value, '.1f') : ''", "labelFontSize": {"condition": {"test": "round(datum.value * 100) % 20 == 0", "value": 10.5}, "value": 0}, "gridOpacity": {"condition": {"test": "round(datum.value * 100) % 20 == 0", "value": 1}, "value": 0}, "tickSize": {"condition": {"test": "round(datum.value * 100) % 20 == 0", "value": 4}, "value": 2}, "labelPadding": 1, "title": null}}
             }},
            {"data": {"name": "price"}, "mark": {"type": "line", "strokeWidth": 1.8, "interpolate": "step-after", "clip": true, "color": "#000000"},
             "encoding": {"x": {"field": "date", "type": "temporal"}, "y": {"field": "v", "type": "quantitative"}}},
            {"data": {"name": "labels"}, "transform": [{"filter": {"field": "date", "range": [{"year": 2022, "month": 8, "date": 13, "utc": true}, {"year": 2022, "month": 9, "date": 10, "utc": true}]}}, {"filter": "datum.kind == 'trough'"}], "mark": {"type": "point", "shape": "M-1,1.143H1V0.357H0.25L0,0L-0.25,0.357H-1Z", "size": 784, "filled": true, "fill": "#ffffff", "stroke": "#000000", "strokeWidth": 0.9, "opacity": 1}, "encoding": {"x": {"field": "date", "type": "temporal"}, "y": {"field": "v", "type": "quantitative"}}},
            {"data": {"name": "labels"}, "transform": [{"filter": {"field": "date", "range": [{"year": 2022, "month": 8, "date": 13, "utc": true}, {"year": 2022, "month": 9, "date": 10, "utc": true}]}}, {"filter": "datum.kind == 'trough'"}], "mark": {"type": "text", "dy": 10.5, "font": "DejaVu Sans", "fontSize": 9, "color": "#000000", "baseline": "middle"}, "encoding": {"x": {"field": "date", "type": "temporal"}, "y": {"field": "v", "type": "quantitative"}, "text": {"field": "v", "type": "quantitative", "format": ".2f"}}},
            {"data": {"name": "anno"}, "transform": [{"filter": "datum.panel == 'priceR'"}], "mark": {"type": "line", "color": "#e3201c", "strokeWidth": 2, "clip": true}, "encoding": {"x": {"field": "date", "type": "temporal"}, "y": {"field": "y", "type": "quantitative"}}},
            {"data": {"name": "anno"}, "transform": [{"filter": "datum.panel == 'priceR' && datum.end == 'head'"}], "mark": {"type": "point", "shape": "M-0.55,1.3L0,0L0.55,1.3", "filled": false, "stroke": "#e3201c", "strokeWidth": 2, "size": 144, "angle": 25, "opacity": 1}, "encoding": {"x": {"field": "date", "type": "temporal"}, "y": {"field": "y", "type": "quantitative"}}},
            {"data": {"name": "anno"}, "transform": [{"filter": "datum.panel == 'ellR'"}], "mark": {"type": "point", "shape": "M-0.774,0A0.774,1,0,1,1,0.774,0A0.774,1,0,1,1,-0.774,0Z", "filled": false, "stroke": "#e3201c", "strokeWidth": 2.5, "size": 961, "opacity": 1}, "encoding": {"x": {"field": "date", "type": "temporal"}, "y": {"field": "y", "type": "quantitative"}}}
          ]
        }
      ]
    }
  ]
}
